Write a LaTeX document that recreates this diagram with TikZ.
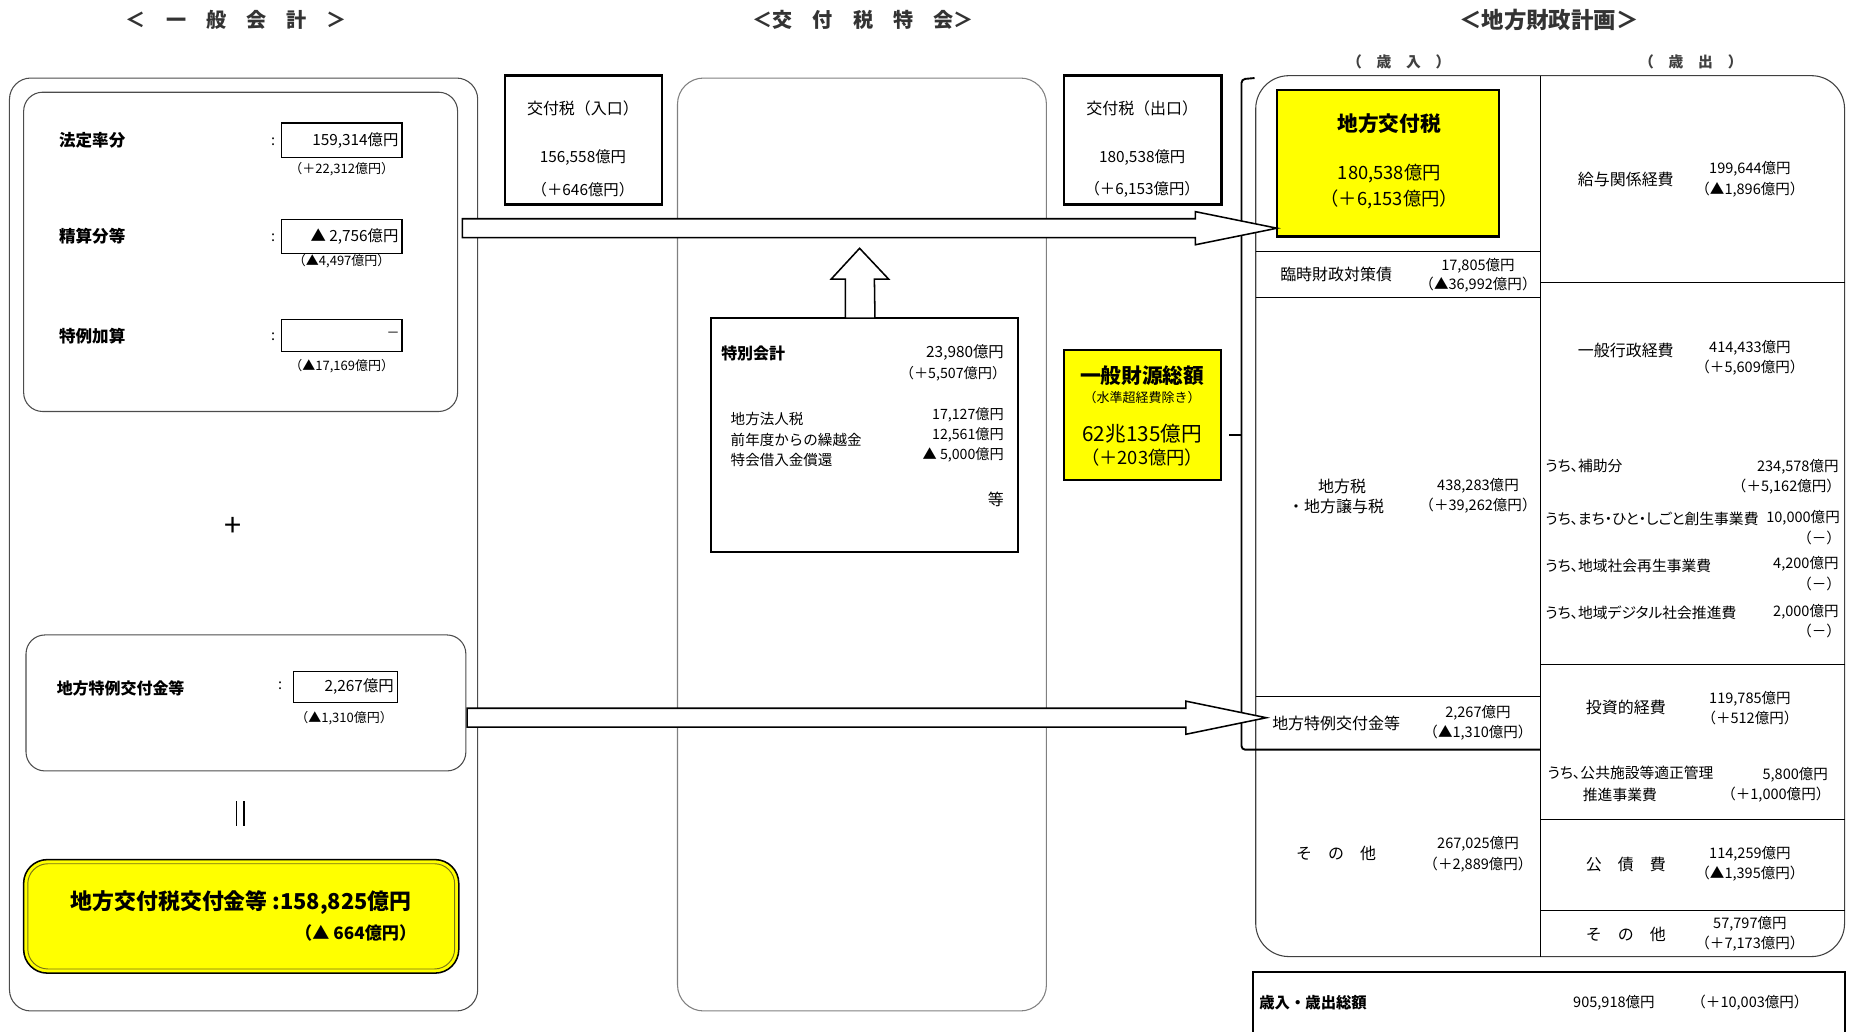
\documentclass[tikz,border=0pt]{standalone}
\usepackage{fontspec}
\setmainfont{Noto Sans CJK JP}
\usetikzlibrary{calc}
\definecolor{yel}{RGB}{255,255,0}
\newcommand\fz[2]{\fontsize{#1}{#2}\selectfont}
\newcommand\blockarr[5]{%
  \draw[blockarrow] ($(#1)+(0,-#3)$) -- ($(#2)+(-#4,-#3)$) -- ($(#2)+(-#4,-#5)$) -- (#2)
    -- ($(#2)+(-#4,#5)$) -- ($(#2)+(-#4,#3)$) -- ($(#1)+(0,#3)$) -- cycle;}
\tikzset{
  every node/.style={inner sep=0pt, outer sep=0pt},
  panel/.style={draw=black!70, line width=0.9pt, rounded corners=16pt},
  valbox/.style={draw, line width=0.9pt},
  heavybox/.style={draw, line width=2.2pt},
  blockarrow/.style={draw, line width=1.3pt, fill=white, line join=miter},
  sep/.style={line width=0.9pt},
  ttl/.style={font=\bfseries\fz{17}{20}, text=black!80},
  lbl/.style={font=\fz{13.5}{15}},
  blbl/.style={font=\bfseries\fz{14}{16}},
  num/.style={font=\fz{12.3}{14}},
  snum/.style={font=\fz{11}{12}},
  ulbl/.style={font=\fz{12.5}{14}\addfontfeatures{RawFeature=+palt}, anchor=west},
}
\begin{document}
\begin{tikzpicture}[x=1pt,y=-1pt]
\useasboundingbox (0,0) rectangle (1568,872);
\clip (0,0) rectangle (1568,872);

% ---------- titles
\node[ttl] (t1) at (200,17) {＜　一　般　会　計　＞};
\node[ttl] (t2) at (730,17) {＜交　付　税　特　会＞};
\node[ttl, font=\bfseries\fz{19}{21}] (t3) at (1310,17) {＜地方財政計画＞};
\node[font=\bfseries\fz{12.5}{14}, text=black!75] (t4) at (1183,52) {（　歳　入　）};
\node[font=\bfseries\fz{12.5}{14}, text=black!75] (t5) at (1430,52) {（　歳　出　）};

% ---------- general account
\node[panel, rounded corners=18pt, minimum width=396, minimum height=789, anchor=north west] (gen) at (8,66) {};
\node[panel, minimum width=367, minimum height=270, anchor=north west] (inA) at (20,78) {};

\node[blbl, anchor=west] (l1) at (50,119) {法定率分};
\node[num] (c1) at (231,120) {:};
\node[valbox, minimum width=102, minimum height=29, anchor=north west] (b1) at (238,104) {};
\node[font=\fz{13}{15}, anchor=east] (v1) at (337,119) {159,314億円};
\node[snum] (s1) at (289,143) {（＋22,312億円）};

\node[blbl, anchor=west] (l2) at (50,200) {精算分等};
\node[num] (c2) at (231,201) {:};
\node[valbox, minimum width=102, minimum height=28, anchor=north west] (b2) at (238,186) {};
\node[font=\fz{13}{15}, anchor=east] (v2) at (337,200) {▲ 2,756億円};
\node[snum] (s2) at (289,221) {（▲4,497億円）};

\node[blbl, anchor=west] (l3) at (50,284) {特例加算};
\node[num] (c3) at (231,285) {:};
\node[valbox, minimum width=102, minimum height=27, anchor=north west] (b3) at (238,270) {};
\node[font=\fz{11}{13}, anchor=east] (v3) at (338,283) {－};
\node[snum] (s3) at (289,310) {（▲17,169億円）};

\node[font=\fz{26}{26}] (plus) at (197,446) {+};

\node[panel, minimum width=372, minimum height=115, anchor=north west] (inB) at (22,537) {};
\node[blbl, font=\bfseries\fz{13.5}{15}, anchor=west] (l4) at (48,582) {地方特例交付金等};
\node[num] (c4) at (237,580) {:};
\node[valbox, minimum width=88, minimum height=26, anchor=north west] (b4) at (248,568) {};
\node[font=\fz{13}{15}, anchor=east] (v4) at (333,581) {2,267億円};
\node[snum] (s4) at (291,607) {（▲1,310億円）};

\node (eq) at (203,688) {\rule{1.3pt}{21pt}\hspace{5pt}\rule{1.3pt}{21pt}};

\node[draw, line width=1.3pt, fill=yel, rounded corners=20pt, minimum width=368, minimum height=96, anchor=north west] (tot) at (20,727) {};
\draw[draw=olive!80!black, line width=0.8pt, rounded corners=17pt] ($(tot.north west)+(3.5,3.5)$) rectangle ($(tot.south east)+(-3.5,-3.5)$);
\node[font=\bfseries\fz{18.5}{20}] (totl) at (204,763) {地方交付税交付金等 :158,825億円};
\node[font=\bfseries\fz{14.5}{16}, anchor=east] (totv) at (352,789) {（▲ 664億円）};

% ---------- special account
\node[heavybox, minimum width=133, minimum height=109, anchor=north west] (inbox) at (427,64) {};
\node[lbl] (in1) at (493,92) {交付税（入口）};
\node[num, font=\fz{13}{15}] (in2) at (493,133) {156,558億円};
\node[num, font=\fz{13}{15}] (in3) at (493,160) {（＋646億円）};

\node[panel, draw=black!50, rounded corners=22pt, minimum width=312, minimum height=789, anchor=north west] (spc) at (573,66) {};

\node[heavybox, minimum width=133, minimum height=109, anchor=north west] (outbox) at (900,64) {};
\node[lbl] (out1) at (966,92) {交付税（出口）};
\node[num, font=\fz{13}{15}] (out2) at (966,133) {180,538億円};
\node[num, font=\fz{13}{15}] (out3) at (966,160) {（＋6,153億円）};

\node[draw, line width=1.6pt, fill=white, minimum width=260, minimum height=198, anchor=north west] (tok) at (601,269) {};
\node[blbl, font=\bfseries\fz{13.5}{15}, anchor=west] (tk1) at (610,299) {特別会計};
\node[font=\fz{13}{15}, anchor=east] (tk2) at (849,298) {23,980億円};
\node[font=\fz{12}{13}, anchor=east] (tk3) at (851,316) {（＋5,507億円）};
\node[font=\fz{12.3}{14}, anchor=west] (tk4) at (618,354) {地方法人税};
\node[font=\fz{12.3}{14}, anchor=west] (tk5) at (618,372) {前年度からの繰越金};
\node[font=\fz{12.3}{14}, anchor=west] (tk6) at (618,389) {特会借入金償還};
\node[font=\fz{12}{13}, anchor=east] (tk7) at (849,351) {17,127億円};
\node[font=\fz{12}{13}, anchor=east] (tk8) at (849,368) {12,561億円};
\node[font=\fz{12}{13}, anchor=east] (tk9) at (849,385) {▲ 5,000億円};
\node[font=\fz{13.5}{15}, anchor=east] (tk10) at (849,422) {等};

\node[draw, line width=1.6pt, fill=yel, minimum width=133, minimum height=110, anchor=north west] (ippan) at (900,296) {};
\node[font=\bfseries\fz{17.5}{19}] (ip1) at (966,318) {一般財源総額};
\node[font=\fz{11}{12}] (ip2) at (966,336) {（水準超経費除き）};
\node[font=\fz{17.5}{19}] (ip3) at (966,367) {62兆135億円};
\node[font=\fz{15.5}{17}] (ip4) at (966,387) {（＋203億円）};

% ---------- local finance plan
\node[panel, draw=black!75, rounded corners=28pt, minimum width=498, minimum height=745, anchor=north west] (plan) at (1062,64) {};
\draw[sep] (plan.north -| 1303,0) -- (plan.south -| 1303,0);
\draw[sep] (1062,213) -- (1303,213);
\draw[sep] (1062,252) -- (1303,252);
\draw[sep] (1062,589) -- (1303,589);
\draw[sep] (1303,239) -- (1560,239);
\draw[sep] (1303,562) -- (1560,562);
\draw[sep] (1303,693) -- (1560,693);
\draw[sep] (1303,770) -- (1560,770);

% bracket
\draw[line width=1.6pt, rounded corners=3pt] (1061,66) -- (1050,67) -- (1050,634) -- (1303,634);
\draw[line width=1.6pt] (1050,368) -- (1039,368);

\node[draw, line width=2pt, fill=yel, minimum width=188, minimum height=124, anchor=north west] (kofu) at (1080,76) {};
\node[font=\bfseries\fz{17.5}{19}] (kf1) at (1175,105) {地方交付税};
\node[font=\fz{15.5}{17}] (kf2) at (1175,147) {180,538億円};
\node[font=\fz{15.5}{17}] (kf3) at (1175,169) {（＋6,153億円）};

\node[lbl] (r1) at (1130,232) {臨時財政対策債};
\node[num] (r1a) at (1250,225) {17,805億円};
\node[num] (r1b) at (1250,241) {（▲36,992億円）};

\node[lbl] (r2) at (1135,411) {地方税};
\node[lbl] (r2x) at (1130,428) {・地方譲与税};
\node[num] (r2a) at (1250,411) {438,283億円};
\node[num] (r2b) at (1250,428) {（＋39,262億円）};

\node[lbl] (r3) at (1130,612) {地方特例交付金等};
\node[num] (r3a) at (1250,603) {2,267億円};
\node[num] (r3b) at (1250,620) {（▲1,310億円）};

\node[lbl] (r4) at (1130,722) {そ　の　他};
\node[num] (r4a) at (1250,714) {267,025億円};
\node[num] (r4b) at (1250,731) {（＋2,889億円）};

\node[lbl] (e1) at (1375,152) {給与関係経費};
\node[num] (e1a) at (1480,143) {199,644億円};
\node[num] (e1b) at (1480,160) {（▲1,896億円）};

\node[lbl] (e2) at (1375,296) {一般行政経費};
\node[num] (e2a) at (1480,294) {414,433億円};
\node[num] (e2b) at (1480,311) {（＋5,609億円）};

\node[ulbl] (u1) at (1307,394) {うち、補助分};
\node[num, anchor=east] (u1a) at (1555,395) {234,578億円};
\node[num, anchor=east] (u1b) at (1557,412) {（＋5,162億円）};
\node[ulbl] (u2) at (1307,439) {うち、まち・ひと・しごと創生事業費};
\node[num, anchor=east] (u2a) at (1556,438) {10,000億円};
\node[num, anchor=east] (u2b) at (1557,455) {（－）};
\node[ulbl] (u3) at (1307,479) {うち、地域社会再生事業費};
\node[num, anchor=east] (u3a) at (1555,477) {4,200億円};
\node[num, anchor=east] (u3b) at (1557,494) {（－）};
\node[ulbl] (u4) at (1307,518) {うち、地域デジタル社会推進費};
\node[num, anchor=east] (u4a) at (1555,517) {2,000億円};
\node[num, anchor=east] (u4b) at (1557,534) {（－）};

\node[lbl] (e3) at (1375,598) {投資的経費};
\node[num] (e3a) at (1480,591) {119,785億円};
\node[num] (e3b) at (1480,607) {（＋512億円）};
\node[ulbl] (u5) at (1309,654) {うち、公共施設等適正管理};
\node[font=\fz{12.5}{14}] (u5x) at (1370,672) {推進事業費};
\node[num, anchor=east] (u5a) at (1546,655) {5,800億円};
\node[num, anchor=east] (u5b) at (1548,672) {（＋1,000億円）};

\node[lbl] (e4) at (1375,731) {公　債　費};
\node[num] (e4a) at (1480,722) {114,259億円};
\node[num] (e4b) at (1480,739) {（▲1,395億円）};

\node[lbl] (e5) at (1375,790) {そ　の　他};
\node[num] (e5a) at (1480,781) {57,797億円};
\node[num] (e5b) at (1480,798) {（＋7,173億円）};

\node[draw, line width=1.8pt, minimum width=500, minimum height=70, anchor=north west] (sum) at (1060,822) {};
\node[blbl, font=\bfseries\fz{13}{15}, anchor=west] (sm1) at (1065,848) {歳入・歳出総額};
\node[num] (sm2) at (1365,848) {905,918億円};
\node[num] (sm3) at (1480,848) {（＋10,003億円）};

% ---------- block arrows
\coordinate (a1s) at ([xshift=4pt]inA.east |- 0,193);
\coordinate (a1t) at (kofu.west |- 0,193);
\blockarr{a1s}{a1t}{8}{69}{14}
\coordinate (a2s) at ([xshift=1pt]inB.east |- 0,607);
\coordinate (a2t) at (1071,607);
\blockarr{a2s}{a2t}{8}{68}{14}
\coordinate (ua) at (727,210);
\draw[blockarrow] (ua) -- ++(24.5,26) -- ++(-12,0) -- (tok.north -| 740,0) -- (tok.north -| 715,0) -- ++(0,-33) -- ++(-12,0) -- cycle;
\end{tikzpicture}
\end{document}
